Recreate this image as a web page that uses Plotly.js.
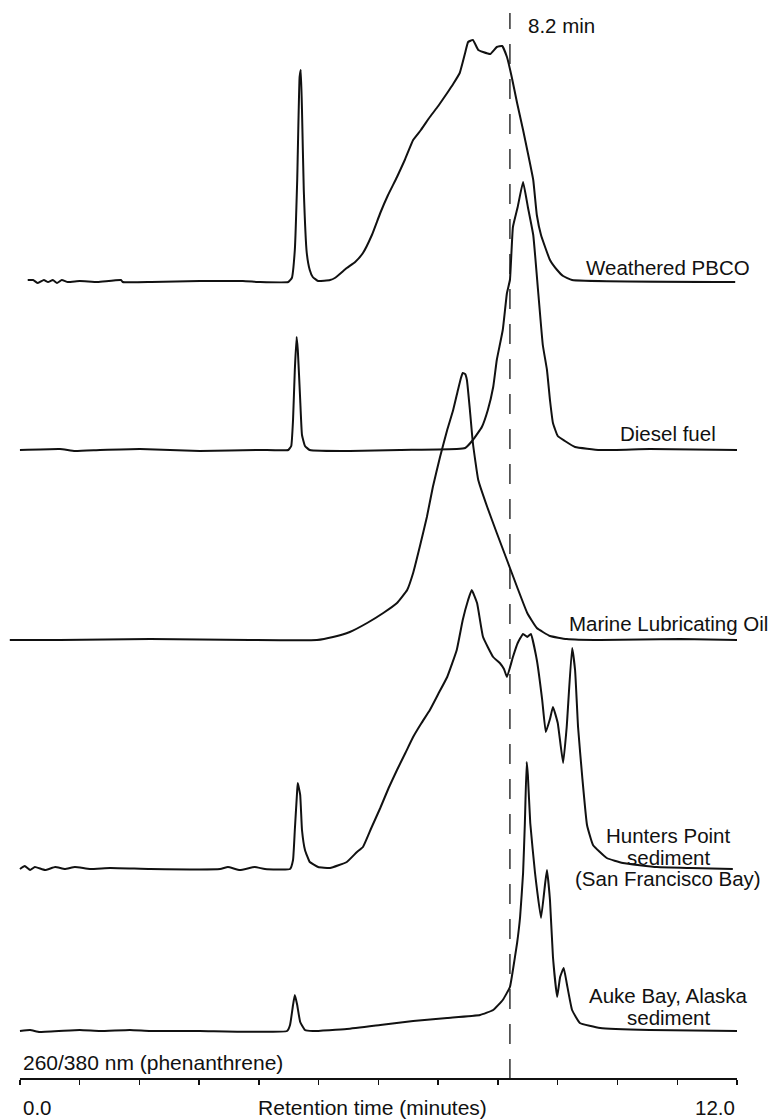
<!DOCTYPE html>
<html>
<head>
<meta charset="utf-8">
<script src="https://cdn.plot.ly/plotly-3.0.1.min.js"></script>
<style>
  html, body { margin: 0; padding: 0; background: #fff; }
  #chart { width: 772px; height: 1119px; }
</style>
</head>
<body>
<div id="chart"></div>
<script>
// Fluorescence HPLC chromatograms at 260/380 nm (phenanthrene window).
// Each sample: retention time (min) and detector response (arbitrary units above its own baseline).

const sampleNames = [
  'Weathered PBCO',
  'Diesel fuel',
  'Marine Lubricating Oil',
  'Hunters Point sediment (San Francisco Bay)',
  'Auke Bay, Alaska sediment'
];

const weatheredTime = [0.13, 0.22, 0.30, 0.40, 0.47, 0.55, 0.62, 0.70, 0.80, 1.00, 1.30, 1.69, 1.72, 2.20, 3.01, 3.73, 4.02,
  4.49, 4.55, 4.60, 4.64, 4.68, 4.70, 4.72, 4.75, 4.80, 4.85, 4.90, 4.99, 5.19, 5.27, 5.47, 5.61, 5.74, 5.89, 6.03,
  6.16, 6.31, 6.44, 6.58, 6.71, 6.86, 7.00, 7.15, 7.25, 7.36, 7.45, 7.50, 7.58, 7.67, 7.75, 7.87, 7.98, 8.07, 8.15,
  8.23, 8.32, 8.42, 8.50, 8.59, 8.65, 8.72, 8.87, 8.99, 9.09, 9.24, 11.97];
const weatheredSignal = [2, 2, -1, 2, 0, 2, -1, 2, 0, 1, 0, 2, 0, 0, 1, 1, 0,
  0, 4, 32, 102, 205, 212, 172, 92, 29, 12, 5, 1, 2, 4, 14, 20, 29, 47, 69,
  87, 105, 122, 142, 152, 165, 176, 189, 198, 209, 229, 240, 242, 232, 230, 228, 235, 236, 225,
  205, 179, 152, 129, 102, 67, 47, 22, 12, 6, 2, 0];

const dieselTime = [0.00, 0.67, 0.92, 1.34, 2.01, 3.01, 4.02, 4.49, 4.54, 4.57, 4.60, 4.63, 4.65, 4.69, 4.72, 4.77, 4.85,
  5.52, 6.36, 7.31, 7.45, 7.58, 7.73, 7.83, 7.92, 7.98, 8.08, 8.15, 8.20, 8.25, 8.33, 8.42, 8.50, 8.59, 8.67, 8.75,
  8.82, 8.87, 8.92, 9.00, 9.12, 9.29, 9.71, 10.54, 12.03];
const dieselSignal = [0, 1, -1, 0, 1, -1, 0, 0, 4, 30, 80, 113, 100, 50, 15, 4, 0,
  -1, 0, 1, 2, 10, 23, 40, 63, 90, 120, 157, 170, 223, 243, 268, 243, 215, 160, 105,
  80, 50, 27, 14, 9, 3, 0, 1, 0];

const marineTime = [-0.17, 0.67, 2.18, 3.85, 4.97, 5.24, 5.52, 5.81, 6.08, 6.31, 6.48, 6.58, 6.69, 6.81, 6.91, 7.03,
  7.15, 7.25, 7.33, 7.38, 7.41, 7.45, 7.48, 7.53, 7.58, 7.67, 7.82, 7.98, 8.15, 8.32, 8.49, 8.65, 8.87, 9.15, 9.71,
  11.05, 12.03];
const marineSignal = [0, 0, 1, 0, 0, 3, 8, 17, 27, 37, 50, 67, 93, 123, 153, 183,
  210, 230, 250, 262, 267, 266, 260, 230, 197, 160, 133, 107, 80, 53, 27, 12, 4, 1, 0,
  1, 0];

const huntersTime = [0.00, 0.08, 0.17, 0.25, 0.42, 0.59, 0.75, 0.92, 1.17, 1.51, 2.18, 3.35, 3.48, 3.68, 3.93, 4.10,
  4.52, 4.57, 4.60, 4.64, 4.65, 4.69, 4.72, 4.77, 4.85, 4.99, 5.19, 5.47, 5.64, 5.74, 5.88, 6.03, 6.17, 6.31, 6.45,
  6.58, 6.72, 6.86, 7.00, 7.15, 7.31, 7.41, 7.50, 7.56, 7.65, 7.75, 7.92, 8.03, 8.10, 8.15, 8.25, 8.33, 8.42, 8.49,
  8.55, 8.65, 8.74, 8.80, 8.87, 8.92, 9.00, 9.09, 9.15, 9.24, 9.29, 9.34, 9.41, 9.49, 9.59, 9.82, 10.09, 10.66,
  11.21, 11.93];
const huntersSignal = [0, 3, -1, 2, -1, 2, 0, 2, 0, 1, 0, 0, 2, -1, 2, 0,
  0, 9, 39, 79, 86, 74, 39, 19, 7, 2, 1, 7, 17, 22, 41, 61, 81, 99, 116,
  132, 146, 159, 175, 192, 219, 249, 269, 279, 266, 232, 212, 206, 200, 192, 212, 226, 235, 232,
  235, 209, 169, 137, 150, 162, 146, 106, 142, 221, 199, 142, 92, 44, 24, 11, 6, 2,
  1, 0];

const aukeTime = [0.00, 0.17, 0.33, 1.00, 1.34, 1.84, 2.18, 3.01, 4.47, 4.52, 4.57, 4.60, 4.64, 4.69, 4.77, 4.90,
  5.47, 6.03, 6.58, 7.15, 7.70, 7.92, 8.08, 8.20, 8.25, 8.32, 8.37, 8.42, 8.45, 8.48, 8.50, 8.54, 8.62, 8.72, 8.79,
  8.82, 8.87, 8.92, 8.99, 9.04, 9.10, 9.15, 9.24, 9.37, 9.71, 10.54, 12.00];
const aukeSignal = [0, 1, -1, 1, 0, 1, 0, 0, 0, 6, 26, 36, 26, 9, 1, 0,
  2, 6, 10, 13, 16, 21, 31, 44, 61, 88, 114, 158, 208, 269, 256, 208, 158, 113, 148,
  161, 131, 74, 34, 54, 63, 48, 21, 8, 3, 1, 0];

const markerTime = 8.2;
const markerLabel = '8.2 min';
const detectorLabel = '260/380 nm (phenanthrene)';
const axisTitle = 'Retention time (minutes)';
const tickValues = [0, 1, 2, 3, 4, 5, 6, 7, 8, 9, 10, 11, 12];
const startLabel = '0.0';
const endLabel = '12.0';

// ---- layout constants (stacking, label placement) ----
const series = [
  { t: weatheredTime, s: weatheredSignal },
  { t: dieselTime, s: dieselSignal },
  { t: marineTime, s: marineSignal },
  { t: huntersTime, s: huntersSignal },
  { t: aukeTime, s: aukeSignal }
];
const baseline = [797, 629, 439, 210, 48];          // vertical stacking of each trace
const labelLines = [
  ['Weathered PBCO'],
  ['Diesel fuel'],
  ['Marine Lubricating Oil'],
  ['Hunters Point', 'sediment', '(San Francisco Bay)'],
  ['Auke Bay, Alaska', 'sediment']
];
const labelRise = [[15], [17], [17], [34, 12, -9], [36, 14]];
const labelX = 10.85;

const FONT = 'Liberation Sans, Arial, Helvetica, sans-serif';
const INK = '#111';
const PLOT_H = 1079;

const traces = series.map((d, i) => ({
  type: 'scatter',
  mode: 'lines',
  name: sampleNames[i],
  x: d.t,
  y: d.s.map(v => v + baseline[i]),
  line: { color: INK, width: 2, shape: 'spline', smoothing: 0.35 },
  hoverinfo: 'x+name'
}));

const annotations = [];
labelLines.forEach((lines, i) => {
  lines.forEach((txt, j) => {
    annotations.push({
      x: labelX, xref: 'x', y: baseline[i] + labelRise[i][j], yref: 'y',
      text: txt, showarrow: false, xanchor: 'center', yanchor: 'middle',
      font: { family: FONT, size: 20.5, color: INK }
    });
  });
});
annotations.push(
  { x: markerTime, xref: 'x', xshift: 16, y: (PLOT_H - 25) / PLOT_H, yref: 'paper',
    text: markerLabel, showarrow: false, xanchor: 'left', yanchor: 'middle',
    font: { family: FONT, size: 20.5, color: INK } },
  { x: 0, xref: 'x', xshift: 1, y: (PLOT_H - 1062) / PLOT_H, yref: 'paper',
    text: detectorLabel, showarrow: false, xanchor: 'left', yanchor: 'middle',
    font: { family: FONT, size: 21, color: INK } },
  { x: 0, xref: 'x', xshift: 1, y: (PLOT_H - 1107) / PLOT_H, yref: 'paper',
    text: startLabel, showarrow: false, xanchor: 'left', yanchor: 'middle',
    font: { family: FONT, size: 20.5, color: INK } },
  { x: 12, xref: 'x', y: (PLOT_H - 1107) / PLOT_H, yref: 'paper',
    text: endLabel, showarrow: false, xanchor: 'right', yanchor: 'middle',
    font: { family: FONT, size: 20.5, color: INK } }
);

const layout = {
  width: 772,
  height: 1119,
  margin: { l: 8, r: 35, t: 0, b: 40 },
  paper_bgcolor: '#fff',
  plot_bgcolor: '#fff',
  showlegend: false,
  font: { family: FONT, color: INK },
  xaxis: {
    range: [-0.2, 12],
    showgrid: false, zeroline: false, showline: false,
    tickmode: 'array', tickvals: tickValues, showticklabels: false,
    ticks: 'outside', ticklen: 5, tickwidth: 1.5, tickcolor: INK,
    title: { text: axisTitle, font: { family: FONT, size: 21, color: INK }, standoff: 18 },
    automargin: false
  },
  yaxis: {
    range: [0, PLOT_H],
    visible: false, fixedrange: true
  },
  shapes: [
    // retention-time marker
    { type: 'line', xref: 'x', yref: 'paper', x0: markerTime, x1: markerTime,
      y0: 0, y1: (PLOT_H - 13) / PLOT_H,
      line: { color: INK, width: 1.3, dash: '20px,15px' } },
    // time axis baseline
    { type: 'line', xref: 'x', yref: 'paper', x0: 0, x1: 12, y0: 0, y1: 0,
      line: { color: INK, width: 2 } }
  ],
  annotations: annotations
};

Plotly.newPlot('chart', traces, layout, { displayModeBar: false, staticPlot: true });
</script>
</body>
</html>
